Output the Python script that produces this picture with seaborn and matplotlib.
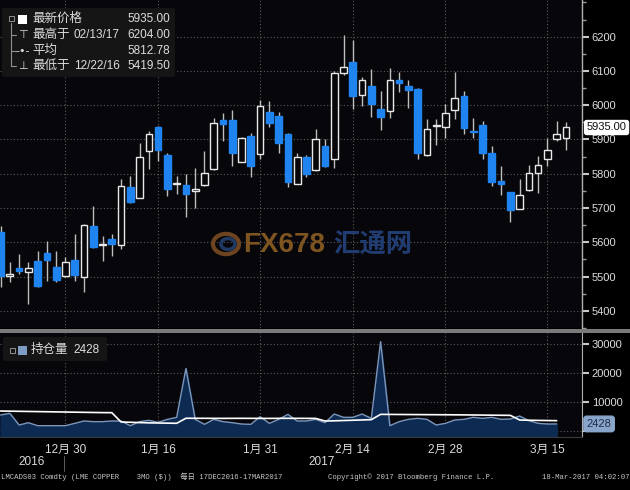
import matplotlib
matplotlib.use('Agg')
import matplotlib.pyplot as plt
import matplotlib.transforms as mtrans
from matplotlib.patches import FancyBboxPatch, Rectangle, Circle
from matplotlib.lines import Line2D
import numpy as np
import seaborn as sns

# LME copper 3M daily candles, 19 Dec 2016 - 17 Mar 2017 (bar index 0..61)
open_px = [5629, 5503, 5525, 5512, 5546, 5569, 5527, 5503, 5548, 5498,
           5648, 5591, 5609, 5593, 5760, 5730, 5866, 5936, 5856, 5770,
           5766, 5751, 5766, 5813, 5956, 5958, 5835, 5910, 5859, 5980,
           5968, 5916, 5771, 5850, 5810, 5881, 5844, 6094, 6125, 6031,
           6057, 5990, 5982, 6074, 6057, 6048, 5856, 5939, 5937, 5987,
           6026, 5926, 5941, 5861, 5779, 5746, 5698, 5753, 5801, 5842,
           5900, 5905]
high_px = [5648, 5542, 5566, 5542, 5576, 5604, 5575, 5556, 5624, 5652,
           5706, 5619, 5624, 5784, 5794, 5890, 5924, 5938, 5861, 5794,
           5799, 5818, 5866, 5963, 5978, 5987, 5907, 5919, 6016, 6013,
           5980, 5919, 5861, 5855, 5931, 5900, 6099, 6204, 6190, 6082,
           6106, 6042, 6108, 6096, 6074, 6050, 5960, 5960, 6005, 6096,
           6041, 5963, 5953, 5881, 5822, 5748, 5784, 5827, 5851, 5905,
           5953, 5950]
low_px = [5469, 5483, 5508, 5419.5, 5470, 5488, 5483, 5498, 5488, 5456,
          5582, 5545, 5561, 5580, 5716, 5728, 5813, 5837, 5735, 5740,
          5675, 5701, 5765, 5810, 5895, 5824, 5833, 5792, 5844, 5937,
          5860, 5760, 5769, 5792, 5808, 5821, 5818, 6088, 5989, 5999,
          5966, 5927, 5963, 6038, 5992, 5844, 5853, 5885, 5905, 5960,
          5915, 5905, 5842, 5764, 5737, 5658, 5696, 5750, 5743, 5822,
          5895, 5869]
close_px = [5503, 5508, 5517, 5525, 5474, 5549, 5491, 5544, 5505, 5650,
            5585, 5595, 5595, 5764, 5718, 5850, 5917, 5869, 5756, 5774,
            5742, 5755, 5801, 5948, 5946, 5861, 5905, 5824, 5997, 5948,
            5890, 5775, 5850, 5799, 5902, 5824, 6094, 6111, 6026, 6073,
            6005, 5965, 6074, 6065, 6043, 5861, 5932, 5943, 5978, 6021,
            5934, 5922, 5861, 5776, 5769, 5694, 5737, 5801, 5827, 5868,
            5917, 5935]

# open interest (bars 0..60) and its average line
open_interest = [5500, 6080, 2060, 2860, 1830, 1830, 1830, 1830, 2630, 3440,
                 3210, 3210, 3440, 3440, 1830, 3210, 3670, 2980, 4000, 4700,
                 21500, 4000, 2290, 4000, 3210, 2860, 2400, 2290, 4920, 2630,
                 4000, 5720, 3440, 3440, 4000, 2860, 5840, 4700, 4700, 5840,
                 4350, 30700, 1830, 3210, 4000, 4350, 4000, 2060, 2630, 3780,
                 4000, 4700, 4350, 4700, 4000, 4120, 5150, 3550, 2630, 2400,
                 2428]
oi_average = [6870, 6820, 6770, 6720, 6670, 6620, 6570, 6520, 6470, 6420,
              6370, 6320, 6300, 3100, 3000, 2900, 2800, 2750, 2700, 2650,
              4380, 4370, 4360, 4350, 4340, 4350, 4360, 4350, 4340, 4330,
              4350, 4360, 4350, 4340, 4330, 3440, 3500, 3600, 3700, 3800,
              3900, 5720, 5700, 5680, 5660, 5640, 5620, 5600, 5580, 5560,
              5540, 5500, 5470, 5440, 5410, 5380, 3780, 3700, 3650, 3600,
              3550]

tick_pos = [7, 17, 28, 38, 48, 59]
tick_labels = ['12月 30', '1月 16', '1月 31', '2月 14', '2月 28', '3月 15']
minor_pos = [2, 12, 22.5, 33, 43, 53.5]

BG = '#07070b'
BLUE = '#1f84f0'
GRID = '#5c5c5c'
TXT = '#dcdcdc'

sns.set_style('dark', {'axes.facecolor': BG, 'figure.facecolor': 'black'})
plt.rcParams['font.family'] = ['Liberation Sans', 'Noto Sans CJK SC', 'DejaVu Sans']

W, H = 630, 490
def fx(p):
    return p / W
def fy(p):
    return 1 - p / H

fig = plt.figure(figsize=(6.3, 4.9), dpi=100, facecolor='black')
ax = fig.add_axes([0, fy(328), fx(582), 328 / H])
ax2 = fig.add_axes([0, fy(437), fx(582), (437 - 333) / H])

xlim = (-0.06, 62.73)

# ---- watermark (under everything) ----
fig.patches.append(Circle((fx(226), fy(244)), 13 / W, transform=fig.transFigure,
                          fc='none', ec='#6e4420', lw=3, zorder=1))
fig.patches.append(Circle((fx(228), fy(244)), 7 / W, transform=fig.transFigure,
                          fc='none', ec='#213a64', lw=2.5, zorder=1))
ax.text(fx(243) / fx(582), (490 - 245 - 162) / 328, 'FX678', transform=ax.transAxes,
        color='#7e5420', fontsize=20, fontweight='bold', va='center', zorder=1)
ax.text(fx(333) / fx(582), (490 - 245 - 162) / 328, '汇通网', transform=ax.transAxes,
        color='#203c70', fontsize=19, fontweight='bold', va='center', zorder=1)

# ---- candles ----
idx = np.arange(len(close_px))
o = np.array(open_px, float)
c = np.array(close_px, float)
up = c >= o
bottoms = np.minimum(o, c)
heights = np.maximum(np.abs(c - o), 3)
faces = [BG if u else BLUE for u in up]
edges = ['#e8e8e8' if u else BLUE for u in up]
ax.vlines(idx, low_px, high_px, colors='#bdbdbd', linewidth=1, zorder=2)
ax.bar(idx, heights, bottom=bottoms, width=0.72, color=faces,
       edgecolor=edges, linewidth=1, zorder=3)

ax.set_xlim(*xlim)
ax.set_ylim(5353, 6307)
ax.yaxis.tick_right()
ax.set_yticks(range(5400, 6201, 100))
ax.set_yticks(range(5350, 6301, 50), minor=True)
ax.set_xticks(tick_pos)
ax.tick_params(axis='x', length=0, labelbottom=False)
ax.tick_params(axis='y', which='major', length=5, width=1.5, color='#c8c8c8',
               labelcolor=TXT, labelsize=8, pad=2)
ax.tick_params(axis='y', which='minor', length=3, width=1, color='#9a9a9a')
ax.grid(True, which='major', color=GRID, linestyle=(0, (1, 2)), linewidth=0.8)
for s in ['left', 'top', 'bottom']:
    ax.spines[s].set_visible(False)
ax.spines['right'].set_color('#b0b0b0')
ax.spines['right'].set_linewidth(1)

# last price tag
blend = mtrans.blended_transform_factory(ax.transAxes, ax.transData)
ax.text(1.008, 5935, '5935.00', transform=blend, va='center', ha='left',
        fontsize=8, color='#111111', zorder=10, clip_on=False,
        bbox=dict(boxstyle='round,pad=0.18', fc='white', ec='white'))

# ---- open interest ----
oi_idx = np.arange(len(open_interest))
ax2.fill_between(oi_idx, open_interest, -5000, color='#0c2a52', zorder=1)
sns.lineplot(x=oi_idx, y=open_interest, ax=ax2, color='#7d95b8', linewidth=1, zorder=2)
sns.lineplot(x=oi_idx, y=oi_average, ax=ax2, color='white', linewidth=1.2, zorder=3)
ax2.set_xlim(*xlim)
ax2.set_ylim(-2060, 33680)
ax2.yaxis.tick_right()
ax2.set_yticks([0, 10000, 20000, 30000])
# the "0" label sits under the 2428 value tag
ax2.set_yticklabels(['', '10000', '20000', '30000'])
ax2.set_xticks(tick_pos)
ax2.set_xticklabels(tick_labels)
ax2.set_xticks(minor_pos, minor=True)
ax2.tick_params(axis='x', which='major', length=4, color='#a0a0a0',
                labelcolor=TXT, labelsize=8.5, pad=1)
ax2.tick_params(axis='x', which='minor', length=3, color='#a0a0a0')
ax2.tick_params(axis='y', length=5, width=1.5, color='#c8c8c8',
                labelcolor=TXT, labelsize=8, pad=2)
ax2.grid(True, which='major', color=GRID, linestyle=(0, (1, 2)), linewidth=0.8)
ax2.set_xlabel('')
ax2.set_ylabel('')
for s in ['left', 'top']:
    ax2.spines[s].set_visible(False)
ax2.spines['bottom'].set_color('#3a3a3a')
ax2.spines['right'].set_color('#b0b0b0')
blend2 = mtrans.blended_transform_factory(ax2.transAxes, ax2.transData)
ax2.text(1.008, 2428, '2428', transform=blend2, va='center', ha='left',
         fontsize=8, color='#1c2d4a', zorder=10, clip_on=False,
         bbox=dict(boxstyle='round,pad=0.25', fc='#8aa5ca', ec='#8aa5ca'))

# separator between panels
fig.patches.append(Rectangle((0, fy(333)), 1, 4 / H, transform=fig.transFigure,
                             fc='#7a7a7a', ec='none', zorder=5))

# ---- legend box (price) ----
fig.patches.append(FancyBboxPatch((fx(2), fy(77)), fx(173), 69 / H,
                                  boxstyle='round,pad=0,rounding_size=0.004',
                                  transform=fig.transFigure, fc='#151515',
                                  ec='none', zorder=6))
fig.lines.append(Line2D([fx(11), fx(11)], [fy(23), fy(66)], transform=fig.transFigure,
                        color='#909090', lw=0.8, zorder=7))
for yy in [35, 51, 66]:
    fig.lines.append(Line2D([fx(11), fx(16)], [fy(yy), fy(yy)], transform=fig.transFigure,
                            color='#909090', lw=0.8, zorder=7))
fig.patches.append(Rectangle((fx(8.5), fy(21.5)), fx(5), 5 / H, transform=fig.transFigure,
                             fc='none', ec='#909090', lw=0.7, zorder=7))
fig.patches.append(Rectangle((fx(18), fy(24)), fx(9), 9 / H, transform=fig.transFigure,
                             fc='white', ec='none', zorder=7))
leg_rows = [(19, '最新价格', '', '5935.00'), (35, '最高于', '02/13/17', '6204.00'),
            (51, '平均', '', '5812.78'), (66, '最低于', '12/22/16', '5419.50')]
icons = {35: '⊤', 51: '-•-', 66: '⊥'}
for yy, lab, dt, val in leg_rows:
    fig.text(fx(32), fy(yy), lab, color=TXT, fontsize=9, va='center', zorder=8)
    if dt:
        fig.text(fx(74), fy(yy), dt, color=TXT, fontsize=8.5, va='center', zorder=8)
    fig.text(fx(170), fy(yy), val, color=TXT, fontsize=8.5, va='center', ha='right', zorder=8)
    if yy in icons:
        fig.text(fx(23), fy(yy), icons[yy], color=TXT, fontsize=8, va='center',
                 ha='center', family='DejaVu Sans', zorder=8)

# ---- legend box (open interest) ----
fig.patches.append(FancyBboxPatch((fx(3), fy(361)), fx(104), 24 / H,
                                  boxstyle='round,pad=0,rounding_size=0.004',
                                  transform=fig.transFigure, fc='#151515',
                                  ec='none', zorder=6))
fig.patches.append(Rectangle((fx(9.5), fy(352.5)), fx(5), 5 / H, transform=fig.transFigure,
                             fc='none', ec='#909090', lw=0.7, zorder=7))
fig.patches.append(Rectangle((fx(18), fy(355)), fx(9), 9 / H, transform=fig.transFigure,
                             fc='#7f9dc4', ec='none', zorder=7))
fig.text(fx(31), fy(350), '持仓量', color=TXT, fontsize=9, va='center', zorder=8)
fig.text(fx(73), fy(350), '2428', color=TXT, fontsize=8.5, va='center', zorder=8)

# ---- year labels and footer ----
fig.text(fx(32), fy(462), '2016', color=TXT, fontsize=8.5, va='center', ha='center')
fig.text(fx(322), fy(462), '2017', color=TXT, fontsize=8.5, va='center', ha='center')
fig.lines.append(Line2D([fx(64), fx(64)], [fy(456), fy(471)], transform=fig.transFigure,
                        color='#6a6a6a', lw=0.6))
foot = ['Liberation Mono', 'Noto Sans CJK SC']
fig.text(fx(1), fy(477), 'LMCADS03 Comdty (LME COPPER    3MO ($))  每日 17DEC2016-17MAR2017',
         color='#c8c8c8', fontsize=5.2, va='center', family=foot)
fig.text(fx(328), fy(477), 'Copyright© 2017 Bloomberg Finance L.P.',
         color='#c8c8c8', fontsize=5.2, va='center', family=foot)
fig.text(fx(629), fy(477), '18-Mar-2017 04:02:07',
         color='#c8c8c8', fontsize=5.2, va='center', ha='right', family=foot)

fig.savefig('out.png', dpi=100, facecolor='black')
